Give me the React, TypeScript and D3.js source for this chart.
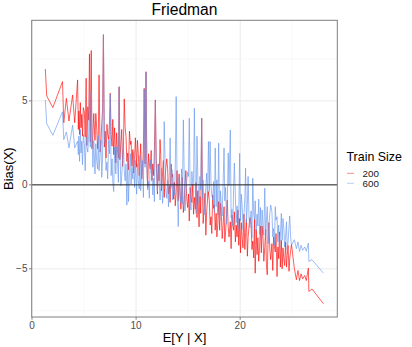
import React, { useRef, useEffect } from "react";
import * as d3 from "d3";

// E[Y | X] of each test point (shared by both train sizes)
const expectedY = [
  1.28, 1.41, 2.0, 2.93, 3.05, 3.3, 3.55, 3.9, 4.1, 4.38, 4.45,
  4.5, 4.57, 4.64, 4.71, 4.78, 4.85, 4.93,
  5.03, 5.11, 5.2, 5.27, 5.36, 5.45, 5.52, 5.6, 5.69, 5.76, 5.85, 5.93,
  6.05, 6.13, 6.21, 6.3, 6.37, 6.44, 6.54, 6.62, 6.7, 6.78, 6.86, 6.95,
  7.03, 7.11, 7.2, 7.27, 7.36, 7.45, 7.52, 7.6, 7.69, 7.76, 7.85, 7.93,
  8.05, 8.13, 8.21, 8.3, 8.37, 8.44, 8.54, 8.62, 8.7, 8.78, 8.86, 8.95,
  9.03, 9.11, 9.2, 9.27, 9.36, 9.45, 9.52, 9.6, 9.69, 9.76, 9.85, 9.93,
  10.05, 10.13, 10.21, 10.3, 10.37, 10.44, 10.54, 10.62, 10.7, 10.78, 10.86, 10.95,
  11.03, 11.11, 11.2, 11.27, 11.36, 11.45, 11.52, 11.6, 11.69, 11.76, 11.85, 11.93,
  12.05, 12.13, 12.21, 12.3, 12.37, 12.44, 12.54, 12.62, 12.7, 12.78, 12.86, 12.95,
  13.03, 13.11, 13.2, 13.27, 13.36, 13.45, 13.52, 13.6, 13.69, 13.76, 13.85, 13.93,
  14.05, 14.13, 14.21, 14.3, 14.37, 14.44, 14.54, 14.62, 14.7, 14.78, 14.86, 14.95,
  15.03, 15.11, 15.2, 15.27, 15.36, 15.45, 15.52, 15.6, 15.69, 15.76, 15.85, 15.93,
  16.05, 16.13, 16.21, 16.3, 16.37, 16.44, 16.54, 16.62, 16.7, 16.78, 16.86, 16.95,
  17.03, 17.11, 17.2, 17.27, 17.36, 17.45, 17.52, 17.6, 17.69, 17.76, 17.85, 17.93,
  18.03, 18.11, 18.2, 18.27, 18.36, 18.45, 18.52, 18.6, 18.69, 18.76, 18.85, 18.93,
  19.05, 19.13, 19.21, 19.3, 19.37, 19.44, 19.54, 19.62, 19.7, 19.78, 19.86, 19.95,
  20.03, 20.11, 20.2, 20.27, 20.36, 20.45, 20.52, 20.6, 20.69, 20.76, 20.85, 20.93,
  21.05, 21.13, 21.21, 21.3, 21.37, 21.44, 21.54, 21.62, 21.7, 21.78, 21.86, 21.95,
  22.03, 22.11, 22.2, 22.27, 22.36, 22.45, 22.52, 22.6, 22.69, 22.76, 22.85, 22.93,
  23.05, 23.13, 23.21, 23.3, 23.37, 23.44, 23.54, 23.62, 23.7, 23.78, 23.86, 23.95,
  24.03, 24.11, 24.2, 24.27, 24.36, 24.45, 24.52, 24.6, 24.69, 24.76, 24.85, 24.93,
  25.2, 25.4, 25.55, 25.7, 25.85, 26.0, 26.2, 26.35, 26.55, 26.6, 26.9, 28.0,
];

// Bias(X), train size 200
const bias200 = [
  6.9, 5.3, 4.6, 6.15, 3.7, 5.15, 3.8, 5.35, 3.7, 6.25, 3.3,
  4.4, 3.0, 4.9, 3.4, 4.2, 2.9, 4.6,
  4.35, 2.85, 6.35, 2.35, 4.65, 3.85, 7.8, 2.55, 8.0, 2.15, 2.95, 4.25,
  2.65, 4.25, 3.45, 2.15, 2.95, 6.55, 1.95, 2.55, 3.65, 4.45, 8.95, 2.25,
  3.2, 1.6, 3.6, 3.0, 2.7, 3.8, 5.46, 3.0, 2.3, 3.9, 1.8, 3.4,
  1.3, 3.1, 2.1, 1.6, 5.85, 1.5, 2.5, 3.3, 1.1, 2.2, 5.12, 3.4,
  2.9, 1.4, 1.9, 0.9, 3.2, 2.4, 2.6, 1.1, 2.1, 0.7, 1.5, 2.8,
  1.05, 2.65, 1.85, 0.55, 1.35, 2.45, 0.35, 0.95, 2.05, 5.75, 1.25, 6.74,
  1.45, -0.15, 1.85, 1.25, 0.95, 2.05, 0.25, 1.25, 0.55, 2.15, 5.06, 1.65,
  -0.55, 1.25, 0.25, 2.7, 1.75, -0.35, 0.65, 1.45, -0.75, 0.35, 1.05, 1.55,
  0.95, -0.55, -0.05, -1.05, 1.25, 0.45, 0.65, -0.85, 0.15, -1.25, -0.45, 0.85,
  -0.95, 0.65, -0.15, -1.45, -0.65, 0.45, -1.65, -1.05, 0.05, 0.85, -0.75, -1.35,
  -0.55, -2.15, -0.15, -0.75, -1.05, 0.05, -1.75, -0.75, -1.45, 0.15, -1.95, -0.35,
  -2.5, -0.7, -1.7, 3.97, -0.2, -2.3, -1.3, -0.5, -3.0, -1.6, -0.9, -0.4,
  -0.9, -2.4, -1.9, -2.9, -0.6, -1.4, -1.2, -2.7, -1.7, -3.1, -2.3, -1.0,
  -2.7, -1.1, -1.9, -3.2, -2.4, -1.3, -3.4, -2.8, -1.7, -0.9, -2.5, -3.1,
  -2.2, -3.8, -1.8, -2.4, -2.7, -1.6, -3.4, -2.4, -3.1, -1.5, -3.6, -2.0,
  -4.05, -2.25, -3.25, -3.75, -1.75, -3.85, -2.85, -2.05, -4.25, -3.15, -2.45, -1.95,
  -2.35, -3.85, -3.35, -4.35, -2.05, -5.26, -2.65, -4.15, -3.15, -4.55, -3.75, -2.45,
  -4.05, -2.45, -3.25, -4.55, -3.75, -2.65, -4.75, -5.36, -3.05, -2.25, -3.85, -4.45,
  -3.5, -5.1, -3.1, -3.7, -4.0, -2.9, -5.46, -3.7, -4.4, -2.8, -4.9, -3.3,
  -5.0, -3.75, -4.45, -4.8, -3.4, -4.9, -4.2, -3.6, -5.15, -4.4, -3.9, -3.55,
  -4.96, -5.65, -5.1, -5.7, -5.3, -5.6, -5.4, -5.7, -4.96, -6.35, -6.2, -7.08,
];

// Bias(X), train size 600
const bias600 = [
  5.05, 3.65, 2.95, 4.35, 2.7, 3.15, 2.2, 3.55, 2.2, 2.6, 1.8,
  2.9, 1.4, 3.3, 1.9, 2.6, 1.2, 3.0,
  2.45, 0.85, 2.85, 2.25, 1.95, 3.05, 5.5, 2.25, 5.6, 3.15, 1.05, 2.65,
  0.65, 2.45, 1.45, 0.95, 2.95, 0.85, 1.85, 2.65, 0.45, 1.55, 8.9, 2.75,
  2.35, 0.85, 1.35, 0.35, 2.65, 1.85, 5.4, 0.55, 1.55, 0.15, -0.4, 2.25,
  0.65, 2.25, 1.45, 0.15, 5.8, 2.05, -0.05, 0.55, 1.65, 2.45, 0.85, 0.25,
  1.25, -1.2, 1.65, -1.0, 0.75, 1.85, 0.05, 1.05, 0.35, 1.95, -0.15, 1.45,
  -0.55, 1.25, 0.25, -0.25, 1.75, -0.35, 0.65, 1.45, -0.75, 5.7, 1.05, 6.7,
  1.2, -0.3, 0.2, -0.8, 1.5, 0.7, 0.9, -0.6, 0.4, -1.0, 5.0, 1.1,
  -0.4, 1.2, 0.4, -0.9, -0.1, 1.0, -1.1, -0.5, 3.77, 1.4, -0.2, -0.8,
  0.3, -1.3, 0.7, 2.8, -0.2, 0.9, -0.9, 0.1, -0.6, 1.0, 5.26, 0.5,
  -2.48, 0.45, -0.55, -1.05, 0.95, -1.15, 3.87, 0.65, -1.55, -0.45, 0.25, 0.75,
  0.5, 3.97, -0.5, -1.5, 0.8, 0.0, 0.2, 4.56, -0.3, -1.7, 2.9, 0.4,
  -1.1, 0.5, -0.3, 3.97, -0.8, 0.3, -1.8, -1.2, -0.1, 0.7, -0.9, 2.58,
  -0.4, 2.58, 0.0, -0.6, -0.9, 0.2, -1.6, 2.2, -1.3, 0.3, -1.8, 2.48,
  -2.15, -0.35, -1.35, -1.85, 0.15, 2.2, -0.95, -0.15, -2.35, -1.25, 1.9, -0.05,
  3.27, -1.95, -1.45, -2.45, -0.15, 1.3, -0.75, -2.25, -1.25, -2.65, -1.85, 1.88,
  -2.15, -0.55, -1.35, -2.65, -1.85, -0.75, 0.99, -2.25, -1.15, 0.5, -1.95, -2.55,
  -1.55, -3.15, 0.4, -1.75, -2.05, -0.95, -2.75, -1.75, -2.45, -0.85, -2.95, -1.35,
  -3.3, -1.5, -2.5, -3.0, -0.2, -3.1, -2.1, -1.3, -3.5, -2.4, -1.7, -1.2,
  -1.6, -3.1, -2.6, -3.6, -1.3, -2.1, -1.9, -3.4, -2.4, -3.8, -3.0, -1.7,
  -3.3, -2.0, -2.65, -3.7, -3.05, -2.2, -3.85, -3.4, -2.5, -1.85, -3.15, -3.6,
  -3.27, -3.8, -3.4, -3.97, -3.6, -3.9, -3.7, -3.95, -3.47, -4.56, -4.46, -5.26,
];

const trainSizes = ["200", "600"];
const colors = ["#ff0000", "#6495ed"];
const xTicks = [0, 10, 20];
const yTicks = [-5, 0, 5];
const xMinor = [5, 15, 25];
const yMinor = [-7.5, -2.5, 2.5, 7.5];

export default function App() {
  const svgRef = useRef<SVGSVGElement>(null);
  const width = 412;
  const height = 347;
  const panel = { left: 31.7, right: 337.3, top: 20.3, bottom: 317 };
  const font = "'Liberation Sans', Arial, sans-serif";

  useEffect(() => {
    const svg = d3.select(svgRef.current);
    svg.selectAll("*").remove();

    const x = d3.scaleLinear().domain([-0.03, 29.33]).range([panel.left, panel.right]);
    const y = d3.scaleLinear().domain([-7.87, 9.8]).range([panel.bottom, panel.top]);

    svg.append("rect")
      .attr("x", 0).attr("y", 0).attr("width", width).attr("height", height)
      .attr("fill", "white");

    // grid, minor first then major
    const grid = svg.append("g");
    grid.selectAll(".xmin").data(xMinor).enter().append("line")
      .attr("x1", d => x(d)).attr("x2", d => x(d))
      .attr("y1", panel.top).attr("y2", panel.bottom)
      .attr("stroke", "#f3f3f3").attr("stroke-width", 0.5);
    grid.selectAll(".ymin").data(yMinor).enter().append("line")
      .attr("y1", d => y(d)).attr("y2", d => y(d))
      .attr("x1", panel.left).attr("x2", panel.right)
      .attr("stroke", "#f3f3f3").attr("stroke-width", 0.5);
    grid.selectAll(".xmaj").data(xTicks).enter().append("line")
      .attr("x1", d => x(d)).attr("x2", d => x(d))
      .attr("y1", panel.top).attr("y2", panel.bottom)
      .attr("stroke", "#ebebeb").attr("stroke-width", 1);
    grid.selectAll(".ymaj").data(yTicks).enter().append("line")
      .attr("y1", d => y(d)).attr("y2", d => y(d))
      .attr("x1", panel.left).attr("x2", panel.right)
      .attr("stroke", "#ebebeb").attr("stroke-width", 1);

    // one line per train size
    const line = d3.line<number>()
      .x((_, i) => x(expectedY[i]))
      .y(d => y(d));
    [bias200, bias600].forEach((s, k) => {
      svg.append("path")
        .datum(s)
        .attr("d", line)
        .attr("fill", "none")
        .attr("stroke", colors[k])
        .attr("stroke-opacity", 0.75)
        .attr("stroke-width", 0.85)
        .attr("stroke-linejoin", "round");
    });

    // zero line
    svg.append("line")
      .attr("x1", panel.left).attr("x2", panel.right)
      .attr("y1", y(0)).attr("y2", y(0))
      .attr("stroke", "#222").attr("stroke-width", 1);

    // panel border
    svg.append("rect")
      .attr("x", panel.left).attr("y", panel.top)
      .attr("width", panel.right - panel.left).attr("height", panel.bottom - panel.top)
      .attr("fill", "none").attr("stroke", "#7f7f7f").attr("stroke-width", 1);

    // x axis
    const xa = svg.append("g");
    xa.selectAll("line").data(xTicks).enter().append("line")
      .attr("x1", d => x(d)).attr("x2", d => x(d))
      .attr("y1", panel.bottom).attr("y2", panel.bottom + 2.7)
      .attr("stroke", "#7f7f7f").attr("stroke-width", 1);
    xa.selectAll("text").data(xTicks).enter().append("text")
      .attr("x", d => x(d)).attr("y", 328.5)
      .attr("text-anchor", "middle")
      .attr("font-family", font).attr("font-size", 10)
      .attr("fill", "#4d4d4d")
      .text(d => d);

    // y axis
    const ya = svg.append("g");
    ya.selectAll("line").data(yTicks).enter().append("line")
      .attr("y1", d => y(d)).attr("y2", d => y(d))
      .attr("x1", panel.left - 2.7).attr("x2", panel.left)
      .attr("stroke", "#7f7f7f").attr("stroke-width", 1);
    ya.selectAll("text").data(yTicks).enter().append("text")
      .attr("x", 27.5).attr("y", d => y(d) + 3.6)
      .attr("text-anchor", "end")
      .attr("font-family", font).attr("font-size", 10)
      .attr("fill", "#4d4d4d")
      .text(d => d < 0 ? `\u2212${Math.abs(d)}` : d);

    // titles
    svg.append("text")
      .attr("x", (panel.left + panel.right) / 2).attr("y", 14.5)
      .attr("text-anchor", "middle")
      .attr("font-family", font).attr("font-size", 15.6)
      .attr("fill", "black")
      .text("Friedman");
    svg.append("text")
      .attr("x", (panel.left + panel.right) / 2).attr("y", 341.5)
      .attr("text-anchor", "middle")
      .attr("font-family", font).attr("font-size", 13)
      .attr("fill", "black")
      .text("E[Y | X]");
    svg.append("text")
      .attr("transform", `translate(13,${(panel.top + panel.bottom) / 2}) rotate(-90)`)
      .attr("text-anchor", "middle")
      .attr("font-family", font).attr("font-size", 13)
      .attr("fill", "black")
      .text("Bias(X)");

    // legend
    const lg = svg.append("g");
    lg.append("text")
      .attr("x", 346.5).attr("y", 161)
      .attr("font-family", font).attr("font-size", 12.4)
      .attr("fill", "black")
      .text("Train Size");
    trainSizes.forEach((t, k) => {
      const cy = 173.3 + k * 10;
      lg.append("line")
        .attr("x1", 347).attr("x2", 354)
        .attr("y1", cy).attr("y2", cy)
        .attr("stroke", colors[k]).attr("stroke-opacity", 0.6)
        .attr("stroke-width", 0.75);
      lg.append("text")
        .attr("x", 362.5).attr("y", cy + 3.4)
        .attr("font-family", font).attr("font-size", 9.8)
        .attr("fill", "#1a1a1a")
        .text(t);
    });
  }, []);

  return (
    <svg
      ref={svgRef}
      width={width}
      height={height}
      style={{ position: "absolute", left: 0, top: 0 }}
    ></svg>
  );
}
